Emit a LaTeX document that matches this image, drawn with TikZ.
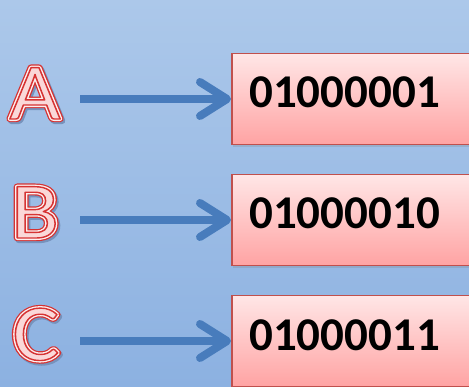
\documentclass[tikz,border=0pt]{standalone}
\usepackage{fontspec}
\setmainfont{Carlito}
\usetikzlibrary{shadows}
\definecolor{bgtop}{RGB}{172,200,234}
\definecolor{bgbot}{RGB}{140,177,225}
\definecolor{arrowblue}{RGB}{72,124,188}
\definecolor{boxtop}{RGB}{255,230,230}
\definecolor{boxbot}{RGB}{255,163,163}
\definecolor{boxline}{RGB}{192,80,77}
\definecolor{lettred}{RGB}{214,50,50}
\definecolor{lettfill}{RGB}{250,216,216}
\definecolor{lettband}{RGB}{253,240,240}
\definecolor{lettshadow}{RGB}{118,146,188}
\newcommand\strokedglyph[2]{\special{pdf:literal direct 1 j 1 Tr #1 w}#2\special{pdf:literal direct 0 Tr}}
\newcommand\filledglyph[1]{\special{pdf:literal direct 1 j 2 Tr 1.4 w 0.84 0.2 0.2 RG}#1\special{pdf:literal direct 0 Tr}}
\newcommand\layeredletter[1]{%
  \rlap{\hspace{1.5pt}\raisebox{-2pt}{\textcolor{lettshadow}{\strokedglyph{6.4}{#1}}}}%
  \rlap{\textcolor{lettred}{\strokedglyph{6.4}{#1}}}%
  \rlap{\textcolor{lettband}{\strokedglyph{4.0}{#1}}}%
  \textcolor{lettfill}{\filledglyph{#1}}}
\tikzset{
  bitbox/.style={draw=boxline, line width=1.5pt, top color=boxtop, bottom color=boxbot,
    minimum width=262pt, minimum height=91pt, anchor=north west, inner sep=0,
    drop shadow={opacity=0.25, shadow xshift=1.5pt, shadow yshift=-2pt}},
  bits/.style={font=\fontsize{47}{47}\selectfont\bfseries, anchor=base west, inner sep=0},
  letter/.style={font=\fontsize{80}{80}\selectfont, anchor=base, inner sep=0, xscale=1.1},
  shaft/.style={draw=arrowblue, line width=8pt},
  chevron/.style={draw=arrowblue, line width=8pt, line cap=round, line join=round},
}
\begin{document}
\begin{tikzpicture}[x=1pt,y=-1pt]
\path[use as bounding box, clip] (0,0) rectangle (469,387);
\shade[top color=bgtop, bottom color=bgbot] (0,0) rectangle (469,387);
% boxes
\node[bitbox] (boxa) at (231,53) {};
\node[bitbox] (boxb) at (231,174) {};
\node[bitbox] (boxc) at (231,295) {};
\node[bits] (ta) at (249,108) {01000001};
\node[bits] (tb) at (249,229) {01000010};
\node[bits] (tc) at (249,351) {01000011};
% letters
\node[letter] (la) at (35,119) {\layeredletter{A}};
\node[letter] (lb) at (35,238) {\layeredletter{B}};
\node[letter] (lc) at (36,360) {\layeredletter{C}};
% arrows
\coordinate (sa) at (80,99);
\coordinate (sb) at (80,220);
\coordinate (sc) at (80,341);
\foreach \s/\b in {sa/boxa, sb/boxb, sc/boxc}{
  \draw[shaft] (\s) -- ([xshift=-7pt]\s -| \b.west);
  \draw[chevron] ([xshift=-31pt,yshift=-17pt]\s -| \b.west) -- ([xshift=-4pt]\s -| \b.west) -- ([xshift=-31pt,yshift=17pt]\s -| \b.west);
}
\end{tikzpicture}
\end{document}
